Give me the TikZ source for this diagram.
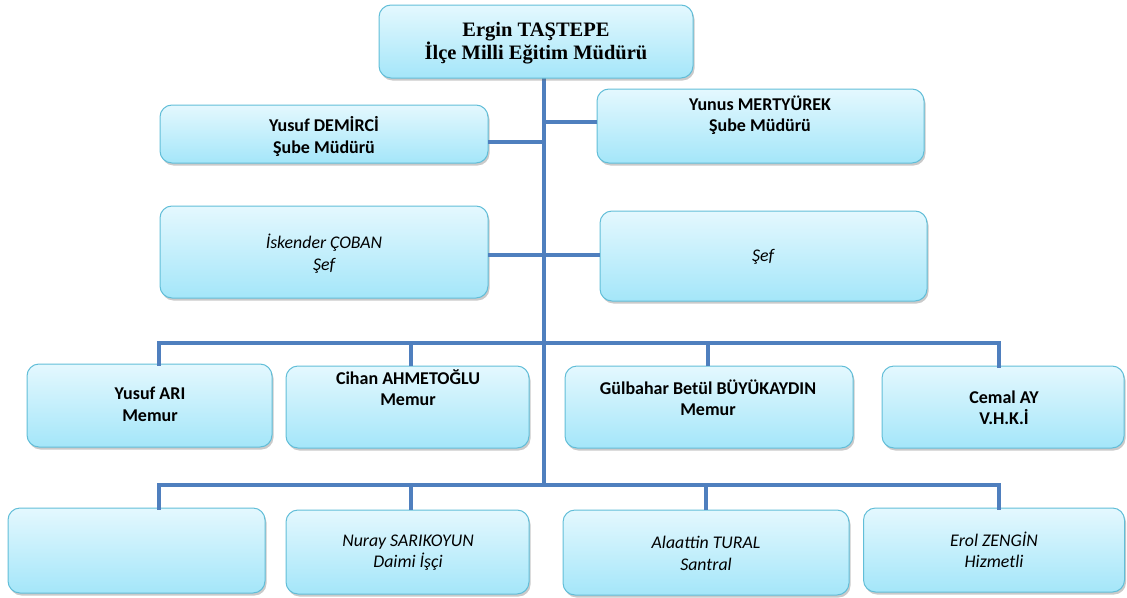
\documentclass[tikz,border=0pt]{standalone}
\usepackage{fontspec}
\setmainfont{Carlito}
\newfontfamily\topfont{Liberation Serif}
\usetikzlibrary{shadows}
\definecolor{linkblue}{HTML}{4F7FBE}
\definecolor{boxedge}{HTML}{62BED8}
\definecolor{boxtop}{HTML}{E4F8FE}
\definecolor{boxbot}{HTML}{A4E6F9}
\tikzset{
  box/.style={rectangle, rounded corners=12pt, draw=boxedge, line width=1pt,
    top color=boxtop, bottom color=boxbot, inner sep=0pt, outer sep=0pt,
    drop shadow={shadow xshift=1.5pt, shadow yshift=-2.5pt, opacity=0.35, fill=black!60}},
  link/.style={draw=linkblue, line width=4pt},
  lbl/.style={align=center, font=\fontsize{18}{21.5}\selectfont\bfseries},
  ilbl/.style={align=center, font=\fontsize{17.8}{21.5}\selectfont\itshape},
  toplbl/.style={align=center, font=\topfont\fontsize{20.5}{23}\selectfont\bfseries},
}
\begin{document}
\begin{tikzpicture}[x=1pt,y=-1pt]
\useasboundingbox (0,0) rectangle (1127,597);
% junction coordinates
\coordinate (j1) at (544,122);
\coordinate (j2) at (544,142);
\coordinate (j3) at (544,255);
\coordinate (b3l) at (159,343);
\coordinate (b3r) at (999,343);
\coordinate (b4l) at (159,485);
\coordinate (b4r) at (999,485);
\coordinate (j4) at (544,485);
\coordinate (c3) at (411,343);
\coordinate (g3) at (708,343);
\coordinate (c4) at (411,485);
\coordinate (g4) at (706,485);

% connectors (drawn first, boxes on top)
\draw[link] (544,78) coordinate (j0) -- (j4);
\draw[link] (b3l) -- (b3r);
\draw[link] (b4l) -- (b4r);

% boxes
\node[box, minimum width=314pt, minimum height=73pt] (top) at (536,41.5) {};
\node[box, minimum width=328pt, minimum height=58pt] (dem) at (324,134) {};
\node[box, minimum width=327pt, minimum height=74pt] (yun) at (760.5,126) {};
\node[box, minimum width=328pt, minimum height=92pt] (isk) at (324,252) {};
\node[box, minimum width=327pt, minimum height=90pt] (sef) at (763.5,256) {};
\node[box, minimum width=245pt, minimum height=83pt] (ari) at (149.5,405.5) {};
\node[box, minimum width=243pt, minimum height=82pt] (cih) at (407.5,407) {};
\node[box, minimum width=288pt, minimum height=82pt] (gul) at (709,407) {};
\node[box, minimum width=242pt, minimum height=82pt] (cem) at (1003,407) {};
\node[box, minimum width=257pt, minimum height=85pt] (emp) at (136.5,550.5) {};
\node[box, minimum width=243pt, minimum height=84pt] (nur) at (407.5,552) {};
\node[box, minimum width=286pt, minimum height=85pt] (ala) at (706,552.5) {};
\node[box, minimum width=261pt, minimum height=84pt] (ero) at (994,550) {};

% side links
\draw[link] (yun.west |- j1) -- (j1);
\draw[link] (dem.east |- j2) -- (j2);
\draw[link] (isk.east |- j3) -- (sef.west |- j3);
\draw[link, line cap=rect] (ari.north -| b3l) -- (b3l);
\draw[link, line cap=rect] (cem.north -| b3r) -- (b3r);
\draw[link] (cih.north -| c3) -- (c3);
\draw[link] (gul.north -| g3) -- (g3);
\draw[link, line cap=rect] (emp.north -| b4l) -- (b4l);
\draw[link, line cap=rect] (ero.north -| b4r) -- (b4r);
\draw[link] (nur.north -| c4) -- (c4);
\draw[link] (ala.north -| g4) -- (g4);

% texts
\node[toplbl] (ttop) at (536,43.5) {Ergin TAŞTEPE\\İlçe Milli Eğitim Müdürü};
\node[lbl] (tdem) at (324,136.5) {Yusuf DEMİRCİ\\Şube Müdürü};
\node[lbl] (tyun) at (760,115) {Yunus MERTYÜREK\\Şube Müdürü};
\node[ilbl] (tisk) at (324,253.5) {İskender ÇOBAN\\Şef};
\node[ilbl] (tsef) at (763,257) {Şef};
\node[lbl] (tari) at (150,404.5) {Yusuf ARI\\Memur};
\node[lbl] (tcih) at (408,387.5) {Cihan AHMETOĞLU\\Memur};
\node[lbl] (tgul) at (708,397.5) {Gülbahar Betül BÜYÜKAYDIN\\Memur};
\node[lbl] (tcem) at (1004,407.5) {Cemal AY\\V.H.K.İ};
\node[ilbl] (tnur) at (408,552.5) {Nuray SARIKOYUN\\Daimi İşçi};
\node[ilbl] (tala) at (706,553.5) {Alaattin TURAL\\Santral};
\node[ilbl] (tero) at (994,550) {Erol ZENGİN\\Hizmetli};
\end{tikzpicture}
\end{document}
